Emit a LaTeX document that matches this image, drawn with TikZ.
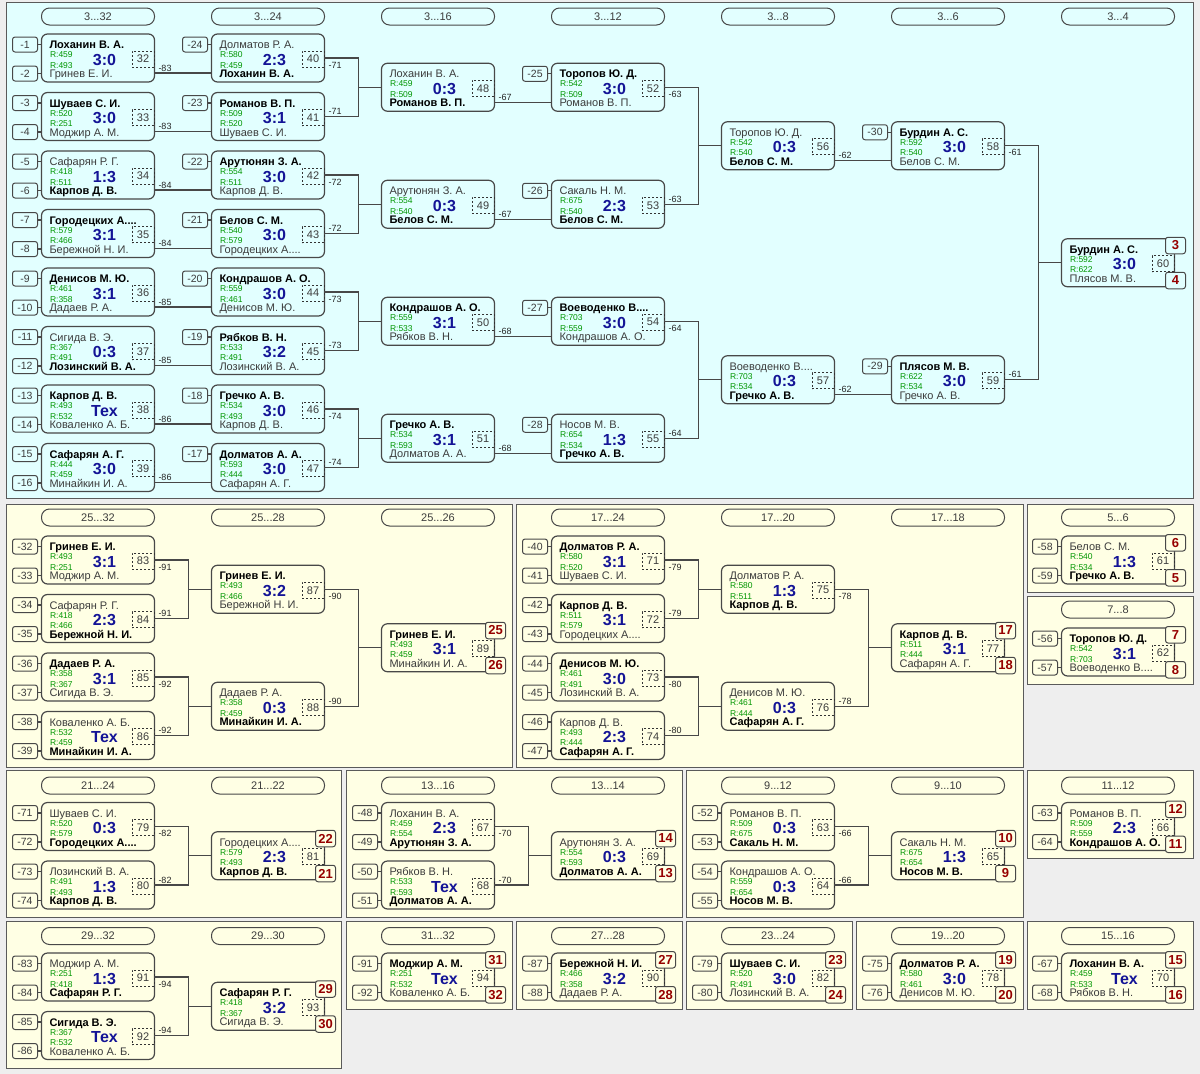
\documentclass[tikz,border=0pt]{standalone}
\usepackage{fontspec}
\setmainfont{Liberation Sans}
\usetikzlibrary{calc}
\definecolor{cyanbg}{RGB}{226,255,255}
\definecolor{yelbg}{RGB}{255,255,228}
\definecolor{outbg}{RGB}{238,238,238}
\definecolor{lc}{RGB}{72,72,72}
\definecolor{pgray}{RGB}{90,90,90}
\definecolor{ngray}{RGB}{60,60,60}
\definecolor{rgreen}{RGB}{0,150,0}
\definecolor{sblue}{RGB}{20,20,150}
\definecolor{pred}{RGB}{150,0,0}
\newcommand\Wn{\bfseries\color{black}}
\tikzset{
 mbox/.style={draw=lc, line width=1.2pt, rounded corners=6pt, minimum width=113pt, minimum height=48pt, inner sep=0pt, outer sep=0pt, anchor=north west},
 nm/.style={inner sep=0pt, outer sep=0pt, text=ngray, font=\fontsize{11}{12}\selectfont, anchor=base west},
 rt/.style={inner sep=0pt, outer sep=0pt, text=rgreen, font=\fontsize{8.5}{9}\selectfont, anchor=base west},
 sc/.style={inner sep=0pt, outer sep=0pt, text=sblue, font=\bfseries\fontsize{16}{18}\selectfont, anchor=base},
 numbox/.style={draw=black!80, dash pattern=on 2pt off 2pt, line width=0.8pt, minimum width=22pt, minimum height=16pt, inner sep=0pt, text=ngray, font=\fontsize{11}{12}\selectfont},
 fbox/.style={draw=lc, line width=1pt, rounded corners=2.5pt, minimum width=25pt, minimum height=15pt, inner sep=0pt, text=ngray, font=\fontsize{10.5}{12}\selectfont},
 pbox/.style={draw=lc, line width=1pt, rounded corners=2.5pt, minimum width=20pt, minimum height=16.5pt, inner sep=0pt, text=pred, font=\bfseries\fontsize{13}{14}\selectfont},
 pill/.style={draw=lc, line width=1pt, rounded corners=8pt, minimum width=113pt, minimum height=17pt, inner sep=0pt, text=ngray, font=\fontsize{11}{12}\selectfont},
 olab/.style={inner sep=0pt, outer sep=0pt, text=black!85, font=\fontsize{9}{10}\selectfont, anchor=base west},
 conn/.style={draw=lc, line width=1.2pt},
 panel/.style={draw=pgray, line width=1pt},
}
\newcommand\MT[8]{%
 \begin{scope}[shift={(#2,#3)}]
 \node[mbox] (m#1) at (0,0) {};
 \node[nm] (m#1a) at (8,14.5) {#4};
 \node[rt] (m#1r) at (8.5,23.5) {R:#5};
 \node[rt] (m#1s) at (8.5,34) {R:#6};
 \node[sc] (m#1c) at (63,31) {#7};
 \node[nm] (m#1b) at (8,43.5) {#8};
 \node[numbox] (m#1n) at (101.5,25) {#1};
 \end{scope}}
\newcommand\FA[2]{\node[fbox] (fd#2) at ($(m#1.north west)+(-16.5,10.5)$) {-#2};
 \draw[conn] (fd#2.east) -- (fd#2.east -| m#1.west);}
\newcommand\FB[2]{\node[fbox] (fd#2) at ($(m#1.north west)+(-16.5,39.5)$) {-#2};
 \draw[conn] (fd#2.east) -- (fd#2.east -| m#1.west);}
\newcommand\MSt[3]{%
 \draw[conn] ($(m#1.south east)+(0,-9)$) -- ($(m#2.south west)+(0,-9)$);
 \node[olab] (ol#1) at ($(m#1.south east)+(4,-11)$) {-#3};}
\newcommand\MBr[4]{%
 \draw[conn] (m#1.east) -- ++(34,0) |- (m#3.west);
 \draw[conn] (m#2.east) -- ++(34,0) |- (m#3.west);
 \node[olab] (ol#1) at ($(m#1.east)+(4,10)$) {-#4};
 \node[olab] (ol#2) at ($(m#2.east)+(4,-2)$) {-#4};}
\newcommand\PL[4]{%
 \node[pbox, fill=#4] (pl#2) at ($(m#1.north east)+(1,6.75)$) {#2};
 \node[pbox, fill=#4] (pl#3) at ($(m#1.north east)+(1,41.75)$) {#3};}
\newcommand\HD[4]{\node[pill] (hd#1) at (#2,#3) {#4};}
\begin{document}
\begin{tikzpicture}[x=1pt,y=-1pt]
\useasboundingbox (0,0) rectangle (1200,1074);
\fill[outbg] (0,0) rectangle (1200,1074);
% panels
\draw[panel, fill=cyanbg] (6,2.5) rectangle (1193.5,498);
\draw[panel, fill=yelbg] (6,504) rectangle (512,767);
\draw[panel, fill=yelbg] (516,504) rectangle (1023,767);
\draw[panel, fill=yelbg] (1027,504) rectangle (1193.5,592);
\draw[panel, fill=yelbg] (1027,596) rectangle (1193.5,684);
\draw[panel, fill=yelbg] (6,770.5) rectangle (341.5,917.5);
\draw[panel, fill=yelbg] (346,770.5) rectangle (682,917.5);
\draw[panel, fill=yelbg] (686,770.5) rectangle (1023,917.5);
\draw[panel, fill=yelbg] (1027,770.5) rectangle (1193.5,858.5);
\draw[panel, fill=yelbg] (6,921.5) rectangle (341.5,1068.5);
\draw[panel, fill=yelbg] (346,921.5) rectangle (512,1009.5);
\draw[panel, fill=yelbg] (516,921.5) rectangle (682,1009.5);
\draw[panel, fill=yelbg] (686,921.5) rectangle (852.5,1009.5);
\draw[panel, fill=yelbg] (856.5,921.5) rectangle (1023,1009.5);
\draw[panel, fill=yelbg] (1027,921.5) rectangle (1193.5,1009.5);
% headers
\HD{a1}{98}{16.5}{3...32}
\HD{a2}{268}{16.5}{3...24}
\HD{a3}{438}{16.5}{3...16}
\HD{a4}{608}{16.5}{3...12}
\HD{a5}{778}{16.5}{3...8}
\HD{a6}{948}{16.5}{3...6}
\HD{a7}{1118}{16.5}{3...4}
\HD{b1}{98}{517.5}{25...32}
\HD{b2}{268}{517.5}{25...28}
\HD{b3}{438}{517.5}{25...26}
\HD{b4}{608}{517.5}{17...24}
\HD{b5}{778}{517.5}{17...20}
\HD{b6}{948}{517.5}{17...18}
\HD{b7}{1118}{517.5}{5...6}
\HD{b8}{1118}{609.5}{7...8}
\HD{c1}{98}{785.5}{21...24}
\HD{c2}{268}{785.5}{21...22}
\HD{c3}{438}{785.5}{13...16}
\HD{c4}{608}{785.5}{13...14}
\HD{c5}{778}{785.5}{9...12}
\HD{c6}{948}{785.5}{9...10}
\HD{c7}{1118}{785.5}{11...12}
\HD{d1}{98}{936}{29...32}
\HD{d2}{268}{936}{29...30}
\HD{d3}{438}{936}{31...32}
\HD{d4}{608}{936}{27...28}
\HD{d5}{778}{936}{23...24}
\HD{d6}{948}{936}{19...20}
\HD{d7}{1118}{936}{15...16}
% top panel matches
\MT{32}{41.5}{34}{\Wn Лоханин В. А.}{459}{493}{3:0}{Гринев Е. И.}
\MT{33}{41.5}{92.5}{\Wn Шуваев С. И.}{520}{251}{3:0}{Моджир А. М.}
\MT{34}{41.5}{151}{Сафарян Р. Г.}{418}{511}{1:3}{\Wn Карпов Д. В.}
\MT{35}{41.5}{209.5}{\Wn Городецких А....}{579}{466}{3:1}{Бережной Н. И.}
\MT{36}{41.5}{268}{\Wn Денисов М. Ю.}{461}{358}{3:1}{Дадаев Р. А.}
\MT{37}{41.5}{326.5}{Сигида В. Э.}{367}{491}{0:3}{\Wn Лозинский В. А.}
\MT{38}{41.5}{385}{\Wn Карпов Д. В.}{493}{532}{Тех}{Коваленко А. Б.}
\MT{39}{41.5}{443.5}{\Wn Сафарян А. Г.}{444}{459}{3:0}{Минайкин И. А.}
\MT{40}{211.5}{34}{Долматов Р. А.}{580}{459}{2:3}{\Wn Лоханин В. А.}
\MT{41}{211.5}{92.5}{\Wn Романов В. П.}{509}{520}{3:1}{Шуваев С. И.}
\MT{42}{211.5}{151}{\Wn Арутюнян З. А.}{554}{511}{3:0}{Карпов Д. В.}
\MT{43}{211.5}{209.5}{\Wn Белов С. М.}{540}{579}{3:0}{Городецких А....}
\MT{44}{211.5}{268}{\Wn Кондрашов А. О.}{559}{461}{3:0}{Денисов М. Ю.}
\MT{45}{211.5}{326.5}{\Wn Рябков В. Н.}{533}{491}{3:2}{Лозинский В. А.}
\MT{46}{211.5}{385}{\Wn Гречко А. В.}{534}{493}{3:0}{Карпов Д. В.}
\MT{47}{211.5}{443.5}{\Wn Долматов А. А.}{593}{444}{3:0}{Сафарян А. Г.}
\MT{48}{381.5}{63.25}{Лоханин В. А.}{459}{509}{0:3}{\Wn Романов В. П.}
\MT{49}{381.5}{180.25}{Арутюнян З. А.}{554}{540}{0:3}{\Wn Белов С. М.}
\MT{50}{381.5}{297.25}{\Wn Кондрашов А. О.}{559}{533}{3:1}{Рябков В. Н.}
\MT{51}{381.5}{414.25}{\Wn Гречко А. В.}{534}{593}{3:1}{Долматов А. А.}
\MT{52}{551.5}{63.25}{\Wn Торопов Ю. Д.}{542}{509}{3:0}{Романов В. П.}
\MT{53}{551.5}{180.25}{Сакаль Н. М.}{675}{540}{2:3}{\Wn Белов С. М.}
\MT{54}{551.5}{297.25}{\Wn Воеводенко В....}{703}{559}{3:0}{Кондрашов А. О.}
\MT{55}{551.5}{414.25}{Носов М. В.}{654}{534}{1:3}{\Wn Гречко А. В.}
\MT{56}{721.5}{121.75}{Торопов Ю. Д.}{542}{540}{0:3}{\Wn Белов С. М.}
\MT{57}{721.5}{355.75}{Воеводенко В....}{703}{534}{0:3}{\Wn Гречко А. В.}
\MT{58}{891.5}{121.75}{\Wn Бурдин А. С.}{592}{540}{3:0}{Белов С. М.}
\MT{59}{891.5}{355.75}{\Wn Плясов М. В.}{622}{534}{3:0}{Гречко А. В.}
\MT{60}{1061.5}{238.75}{\Wn Бурдин А. С.}{592}{622}{3:0}{Плясов М. В.}
% 25..32 and 17..24
\MT{83}{41.5}{536}{\Wn Гринев Е. И.}{493}{251}{3:1}{Моджир А. М.}
\MT{84}{41.5}{594.5}{Сафарян Р. Г.}{418}{466}{2:3}{\Wn Бережной Н. И.}
\MT{85}{41.5}{653}{\Wn Дадаев Р. А.}{358}{367}{3:1}{Сигида В. Э.}
\MT{86}{41.5}{711.5}{Коваленко А. Б.}{532}{459}{Тех}{\Wn Минайкин И. А.}
\MT{87}{211.5}{565.25}{\Wn Гринев Е. И.}{493}{466}{3:2}{Бережной Н. И.}
\MT{88}{211.5}{682.25}{Дадаев Р. А.}{358}{459}{0:3}{\Wn Минайкин И. А.}
\MT{89}{381.5}{623.75}{\Wn Гринев Е. И.}{493}{459}{3:1}{Минайкин И. А.}
\MT{71}{551.5}{536}{\Wn Долматов Р. А.}{580}{520}{3:1}{Шуваев С. И.}
\MT{72}{551.5}{594.5}{\Wn Карпов Д. В.}{511}{579}{3:1}{Городецких А....}
\MT{73}{551.5}{653}{\Wn Денисов М. Ю.}{461}{491}{3:0}{Лозинский В. А.}
\MT{74}{551.5}{711.5}{Карпов Д. В.}{493}{444}{2:3}{\Wn Сафарян А. Г.}
\MT{75}{721.5}{565.25}{Долматов Р. А.}{580}{511}{1:3}{\Wn Карпов Д. В.}
\MT{76}{721.5}{682.25}{Денисов М. Ю.}{461}{444}{0:3}{\Wn Сафарян А. Г.}
\MT{77}{891.5}{623.75}{\Wn Карпов Д. В.}{511}{444}{3:1}{Сафарян А. Г.}
\MT{61}{1061.5}{536}{Белов С. М.}{540}{534}{1:3}{\Wn Гречко А. В.}
\MT{62}{1061.5}{628}{\Wn Торопов Ю. Д.}{542}{703}{3:1}{Воеводенко В....}
% row 3
\MT{79}{41.5}{802.5}{Шуваев С. И.}{520}{579}{0:3}{\Wn Городецких А....}
\MT{80}{41.5}{861}{Лозинский В. А.}{491}{493}{1:3}{\Wn Карпов Д. В.}
\MT{81}{211.5}{831.75}{Городецких А....}{579}{493}{2:3}{\Wn Карпов Д. В.}
\MT{67}{381.5}{802.5}{Лоханин В. А.}{459}{554}{2:3}{\Wn Арутюнян З. А.}
\MT{68}{381.5}{861}{Рябков В. Н.}{533}{593}{Тех}{\Wn Долматов А. А.}
\MT{69}{551.5}{831.75}{Арутюнян З. А.}{554}{593}{0:3}{\Wn Долматов А. А.}
\MT{63}{721.5}{802.5}{Романов В. П.}{509}{675}{0:3}{\Wn Сакаль Н. М.}
\MT{64}{721.5}{861}{Кондрашов А. О.}{559}{654}{0:3}{\Wn Носов М. В.}
\MT{65}{891.5}{831.75}{Сакаль Н. М.}{675}{654}{1:3}{\Wn Носов М. В.}
\MT{66}{1061.5}{802.5}{Романов В. П.}{509}{559}{2:3}{\Wn Кондрашов А. О.}
% row 4
\MT{91}{41.5}{953}{Моджир А. М.}{251}{418}{1:3}{\Wn Сафарян Р. Г.}
\MT{92}{41.5}{1011.5}{\Wn Сигида В. Э.}{367}{532}{Тех}{Коваленко А. Б.}
\MT{93}{211.5}{982.25}{\Wn Сафарян Р. Г.}{418}{367}{3:2}{Сигида В. Э.}
\MT{94}{381.5}{953}{\Wn Моджир А. М.}{251}{532}{Тех}{Коваленко А. Б.}
\MT{90}{551.5}{953}{\Wn Бережной Н. И.}{466}{358}{3:2}{Дадаев Р. А.}
\MT{82}{721.5}{953}{\Wn Шуваев С. И.}{520}{491}{3:0}{Лозинский В. А.}
\MT{78}{891.5}{953}{\Wn Долматов Р. А.}{580}{461}{3:0}{Денисов М. Ю.}
\MT{70}{1061.5}{953}{\Wn Лоханин В. А.}{459}{533}{Тех}{Рябков В. Н.}
% feeders
\FA{32}{1}\FB{32}{2}\FA{33}{3}\FB{33}{4}\FA{34}{5}\FB{34}{6}\FA{35}{7}\FB{35}{8}
\FA{36}{9}\FB{36}{10}\FA{37}{11}\FB{37}{12}\FA{38}{13}\FB{38}{14}\FA{39}{15}\FB{39}{16}
\FA{40}{24}\FA{41}{23}\FA{42}{22}\FA{43}{21}\FA{44}{20}\FA{45}{19}\FA{46}{18}\FA{47}{17}
\FA{52}{25}\FA{53}{26}\FA{54}{27}\FA{55}{28}\FA{58}{30}\FA{59}{29}
\FA{83}{32}\FB{83}{33}\FA{84}{34}\FB{84}{35}\FA{85}{36}\FB{85}{37}\FA{86}{38}\FB{86}{39}
\FA{71}{40}\FB{71}{41}\FA{72}{42}\FB{72}{43}\FA{73}{44}\FB{73}{45}\FA{74}{46}\FB{74}{47}
\FA{61}{58}\FB{61}{59}\FA{62}{56}\FB{62}{57}
\FA{79}{71}\FB{79}{72}\FA{80}{73}\FB{80}{74}
\FA{67}{48}\FB{67}{49}\FA{68}{50}\FB{68}{51}
\FA{63}{52}\FB{63}{53}\FA{64}{54}\FB{64}{55}
\FA{66}{63}\FB{66}{64}
\FA{91}{83}\FB{91}{84}\FA{92}{85}\FB{92}{86}
\FA{94}{91}\FB{94}{92}\FA{90}{87}\FB{90}{88}\FA{82}{79}\FB{82}{80}
\FA{78}{75}\FB{78}{76}\FA{70}{67}\FB{70}{68}
% connectors
\MSt{32}{40}{83}\MSt{33}{41}{83}\MSt{34}{42}{84}\MSt{35}{43}{84}
\MSt{36}{44}{85}\MSt{37}{45}{85}\MSt{38}{46}{86}\MSt{39}{47}{86}
\MBr{40}{41}{48}{71}\MBr{42}{43}{49}{72}\MBr{44}{45}{50}{73}\MBr{46}{47}{51}{74}
\MSt{48}{52}{67}\MSt{49}{53}{67}\MSt{50}{54}{68}\MSt{51}{55}{68}
\MBr{52}{53}{56}{63}\MBr{54}{55}{57}{64}
\MSt{56}{58}{62}\MSt{57}{59}{62}
\MBr{58}{59}{60}{61}
\MBr{83}{84}{87}{91}\MBr{85}{86}{88}{92}\MBr{87}{88}{89}{90}
\MBr{71}{72}{75}{79}\MBr{73}{74}{76}{80}\MBr{75}{76}{77}{78}
\MBr{79}{80}{81}{82}\MBr{67}{68}{69}{70}\MBr{63}{64}{65}{66}\MBr{91}{92}{93}{94}
% places
\PL{60}{3}{4}{cyanbg}\PL{89}{25}{26}{yelbg}\PL{77}{17}{18}{yelbg}
\PL{61}{6}{5}{yelbg}\PL{62}{7}{8}{yelbg}\PL{81}{22}{21}{yelbg}
\PL{69}{14}{13}{yelbg}\PL{65}{10}{9}{yelbg}\PL{66}{12}{11}{yelbg}
\PL{93}{29}{30}{yelbg}\PL{94}{31}{32}{yelbg}\PL{90}{27}{28}{yelbg}
\PL{82}{23}{24}{yelbg}\PL{78}{19}{20}{yelbg}\PL{70}{15}{16}{yelbg}
\end{tikzpicture}
\end{document}
